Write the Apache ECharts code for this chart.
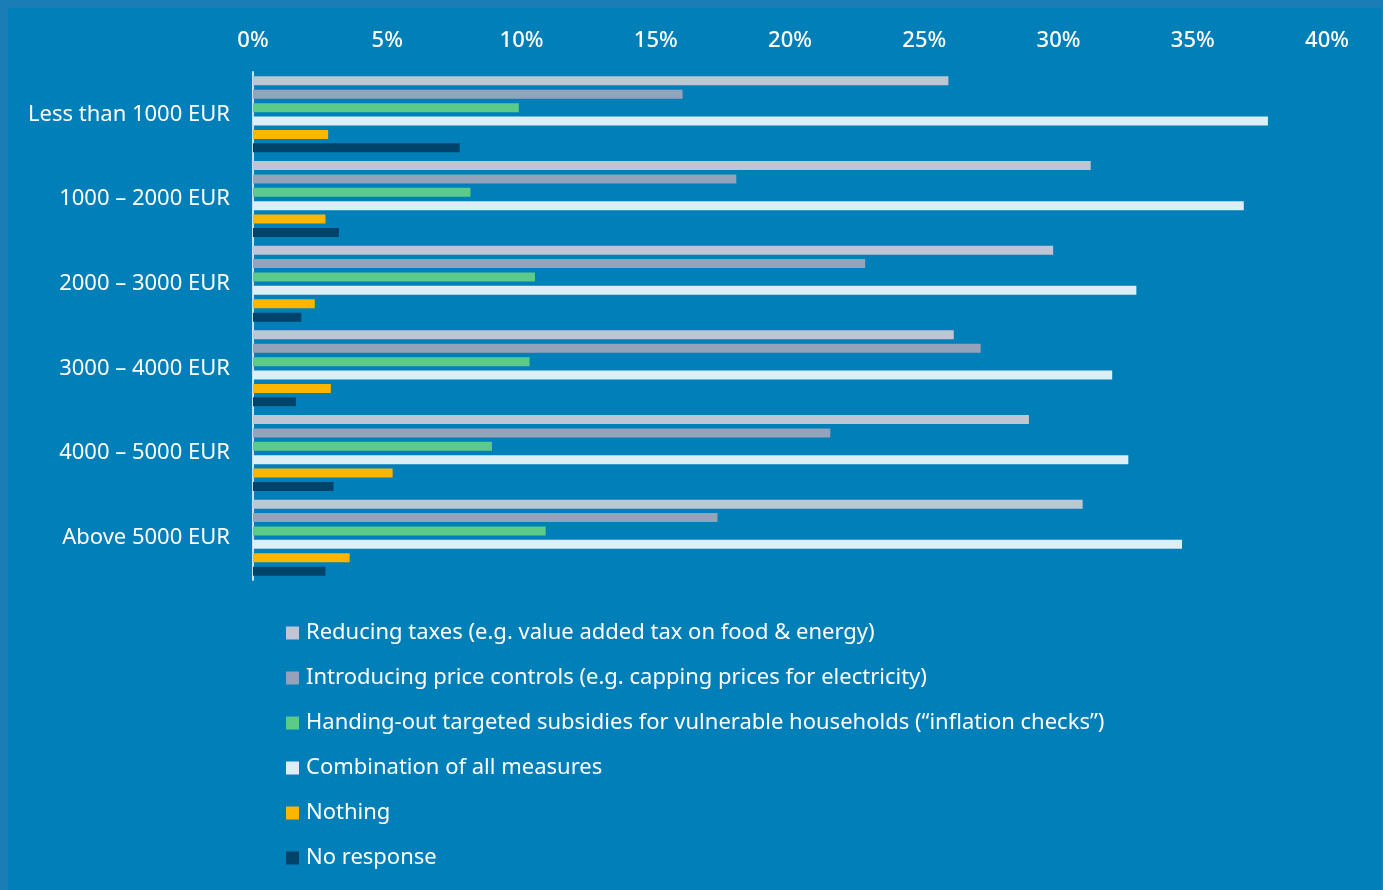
<!DOCTYPE html>
<html>
<head>
<meta charset="utf-8">
<script src="https://cdn.jsdelivr.net/npm/echarts@6/dist/echarts.min.js"></script>
<style>
  html, body { margin: 0; padding: 0; width: 1383px; height: 890px; background: #1a7db5; overflow: hidden; }
  #chart { position: absolute; left: 8px; top: 8px; width: 1373px; height: 882px; background: #007fb8; }
</style>
</head>
<body>
<div id="chart"></div>
<script>
// Income brackets (monthly household net income)
const categories = [
  'Less than 1000 EUR',
  '1000 – 2000 EUR',
  '2000 – 3000 EUR',
  '3000 – 4000 EUR',
  '4000 – 5000 EUR',
  'Above 5000 EUR'
];

// Share of respondents (%) preferring each measure, per bracket
const reducingTaxes   = [25.9, 31.2, 29.8, 26.1, 28.9, 30.9];
const priceControls   = [16.0, 18.0, 22.8, 27.1, 21.5, 17.3];
const subsidies       = [9.9, 8.1, 10.5, 10.3, 8.9, 10.9];
const combination     = [37.8, 36.9, 32.9, 32.0, 32.6, 34.6];
const nothing         = [2.8, 2.7, 2.3, 2.9, 5.2, 3.6];
const noResponse      = [7.7, 3.2, 1.8, 1.6, 3.0, 2.7];

const seriesNames = [
  'Reducing taxes (e.g. value added tax on food & energy)',
  'Introducing price controls (e.g. capping prices for electricity)',
  'Handing-out targeted subsidies for vulnerable households (“inflation checks”)',
  'Combination of all measures',
  'Nothing',
  'No response'
];
const seriesData = [reducingTaxes, priceControls, subsidies, combination, nothing, noResponse];
const seriesColors = ['#bec6d3', '#94a3ba', '#5ccb8a', '#dceff5', '#fdb600', '#00446c'];

const FONT = '"Noto Sans", "Open Sans", sans-serif';

const chart = echarts.init(document.getElementById('chart'), null, { renderer: 'canvas' });

chart.setOption({
  backgroundColor: '#007fb8',
  animation: false,
  textStyle: { fontFamily: FONT },
  grid: { left: 245, right: 54, top: 64, bottom: 310, containLabel: false },
  xAxis: {
    type: 'value',
    position: 'top',
    min: 0,
    max: 40,
    interval: 5,
    axisLine: { show: false },
    axisTick: { show: false },
    splitLine: { show: false },
    axisLabel: {
      color: '#ffffff',
      fontSize: 22,
      fontWeight: 500,
      fontFamily: FONT,
      margin: 20,
      formatter: v => v + '%'
    }
  },
  yAxis: {
    type: 'category',
    data: categories,
    inverse: true,
    axisLine: { show: true, lineStyle: { color: '#c6e0ee', width: 2 } },
    axisTick: { show: false },
    axisLabel: {
      color: '#ffffff',
      fontSize: 22,
      fontFamily: FONT,
      margin: 23
    }
  },
  legend: {
    orient: 'vertical',
    left: 273,
    top: 609,
    itemWidth: 13,
    itemHeight: 13,
    itemGap: 23,
    icon: 'rect',
    textStyle: { color: '#ffffff', fontSize: 22, fontFamily: FONT, lineHeight: 22, padding: [0, 0, 0, 2] },
    data: seriesNames
  },
  series: seriesNames.map((name, i) => ({
    name: name,
    type: 'bar',
    data: seriesData[i],
    barWidth: 9,
    barGap: '49%',
    itemStyle: { color: seriesColors[i] }
  }))
});
</script>
</body>
</html>
